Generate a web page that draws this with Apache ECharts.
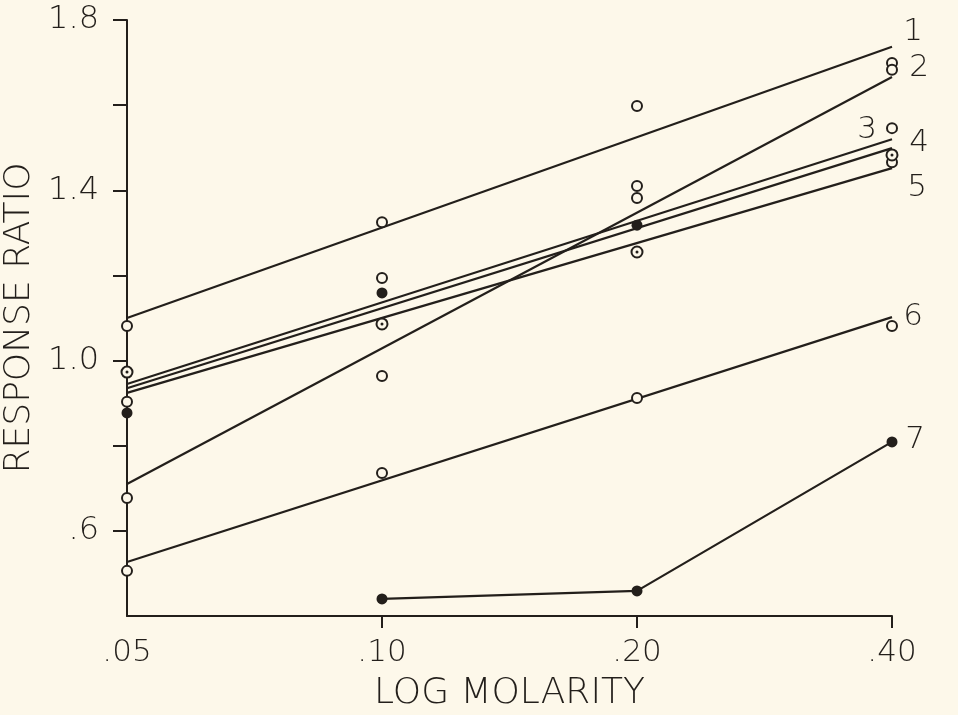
<!DOCTYPE html>
<html>
<head>
<meta charset="utf-8">
<script src="https://cdn.jsdelivr.net/npm/echarts@6/dist/echarts.min.js"></script>
<style>
  html, body { margin: 0; padding: 0; background: #fdf8ea; }
  #chart { width: 958px; height: 715px; }
</style>
</head>
<body>
<div id="chart"></div>
<script>
// x categories (log molarity, equally spaced)
const categories = ['.05', '.10', '.20', '.40'];

// y axis ticks / labels
const yTickValues = [0.6, 0.8, 1.0, 1.2, 1.4, 1.6, 1.8];
const yLabelValues = [0.6, 1.0, 1.4, 1.8];
const yLabelTexts = ['.6', '1.0', '1.4', '1.8'];

// fitted lines 1-6: value at .05 and at .40
const lineNames = ['1', '2', '3', '4', '5', '6'];
const lineStart = [1.10, 0.71, 0.945, 0.935, 0.924, 0.527];
const lineEnd = [1.737, 1.666, 1.520, 1.499, 1.452, 1.102];

// curve 7 (connected filled dots)
const line7Name = '7';
const line7X = [1, 2, 3];
const line7Y = [0.440, 0.459, 0.809];

// observed points
const openPts = [
  [0, 1.081], [0, 0.903], [0, 0.677], [0, 0.506],
  [1, 1.325], [1, 1.194], [1, 0.964], [1, 0.736],
  [2, 1.598], [2, 1.410], [2, 1.382], [2, 0.912],
  [3, 1.699], [3, 1.683], [3, 1.546], [3, 1.466], [3, 1.081]
];
const dottedPts = [[0, 0.973], [1, 1.086], [2, 1.255], [3, 1.483]];
const filledPts = [[0, 0.877], [1, 1.159], [2, 1.318]];

const ink = '#231f1b';
const paper = '#fdf8ea';
const font = '"DejaVu Sans", sans-serif';

// where each line's number sits relative to the line end
const labelOffsets = [[21, -15], [27, -9], [-25, -9], [27, -5], [25, 20], [21, 0], [23, -2]];

const chart = echarts.init(document.getElementById('chart'));

const endLabel = (text, off) => ({
  show: true,
  position: 'inside',
  offset: off,
  formatter: text,
  color: ink,
  fontSize: 31,
  fontFamily: font,
  fontWeight: 200
});

const series = [];
lineNames.forEach((name, i) => {
  series.push({
    name: name,
    type: 'line',
    data: [
      { value: [0, lineStart[i]], symbol: 'none' },
      { value: [3, lineEnd[i]], symbol: 'circle', symbolSize: 0.1, label: endLabel(name, labelOffsets[i]) }
    ],
    showSymbol: true,
    lineStyle: { color: ink, width: 2.2 },
    itemStyle: { color: ink },
    silent: true,
    z: 2
  });
});

series.push({
  name: line7Name,
  type: 'line',
  data: line7X.map((x, i) => {
    const item = { value: [x, line7Y[i]] };
    if (i === line7X.length - 1) item.label = endLabel(line7Name, labelOffsets[6]);
    return item;
  }),
  symbol: 'circle',
  symbolSize: 11,
  showSymbol: true,
  lineStyle: { color: ink, width: 2.2 },
  itemStyle: { color: ink, opacity: 1 },
  silent: true,
  z: 3
});

series.push({
  type: 'scatter',
  data: openPts,
  symbol: 'circle',
  symbolSize: 10,
  itemStyle: { color: paper, borderColor: ink, borderWidth: 2, opacity: 1 },
  silent: true,
  z: 4
});
series.push({
  type: 'scatter',
  data: dottedPts,
  symbol: 'circle',
  symbolSize: 11,
  itemStyle: { color: paper, borderColor: ink, borderWidth: 2, opacity: 1 },
  silent: true,
  z: 4
});
series.push({
  type: 'scatter',
  data: dottedPts,
  symbol: 'circle',
  symbolSize: 3,
  itemStyle: { color: ink, opacity: 1 },
  silent: true,
  z: 5
});
series.push({
  type: 'scatter',
  data: filledPts,
  symbol: 'circle',
  symbolSize: 11,
  itemStyle: { color: ink, opacity: 1 },
  silent: true,
  z: 4
});

chart.setOption({
  backgroundColor: paper,
  animation: false,
  grid: { left: 127, right: 66, top: 20, bottom: 99, containLabel: false, outerBoundsMode: 'none' },
  xAxis: {
    type: 'category',
    data: categories,
    boundaryGap: false,
    name: 'LOG MOLARITY',
    nameLocation: 'middle',
    nameGap: 60,
    nameTextStyle: { color: ink, fontSize: 36, fontFamily: font, fontWeight: 200 },
    axisLine: { lineStyle: { color: ink, width: 2 } },
    axisTick: {
      show: true,
      length: 12,
      interval: (index) => index !== 0,
      lineStyle: { color: ink, width: 2 }
    },
    axisLabel: { color: ink, fontSize: 31, fontFamily: font, fontWeight: 200, margin: 21 },
    splitLine: { show: false }
  },
  yAxis: {
    type: 'value',
    min: 0.4,
    max: 1.8,
    interval: 0.2,
    name: 'RESPONSE RATIO',
    nameLocation: 'middle',
    nameGap: 88,
    nameTextStyle: { color: ink, fontSize: 36, fontFamily: font, fontWeight: 200 },
    axisLine: { show: true, lineStyle: { color: ink, width: 2 } },
    axisTick: {
      show: true,
      length: 14,
      customValues: yTickValues,
      lineStyle: { color: ink, width: 2 }
    },
    axisLabel: {
      color: ink,
      fontSize: 32,
      fontFamily: font,
      fontWeight: 200,
      margin: 28,
      customValues: yLabelValues,
      formatter: (v) => {
        const k = yLabelValues.findIndex((x) => Math.abs(x - v) < 1e-6);
        return k >= 0 ? yLabelTexts[k] : '';
      }
    },
    splitLine: { show: false }
  },
  series: series
});
</script>
</body>
</html>
